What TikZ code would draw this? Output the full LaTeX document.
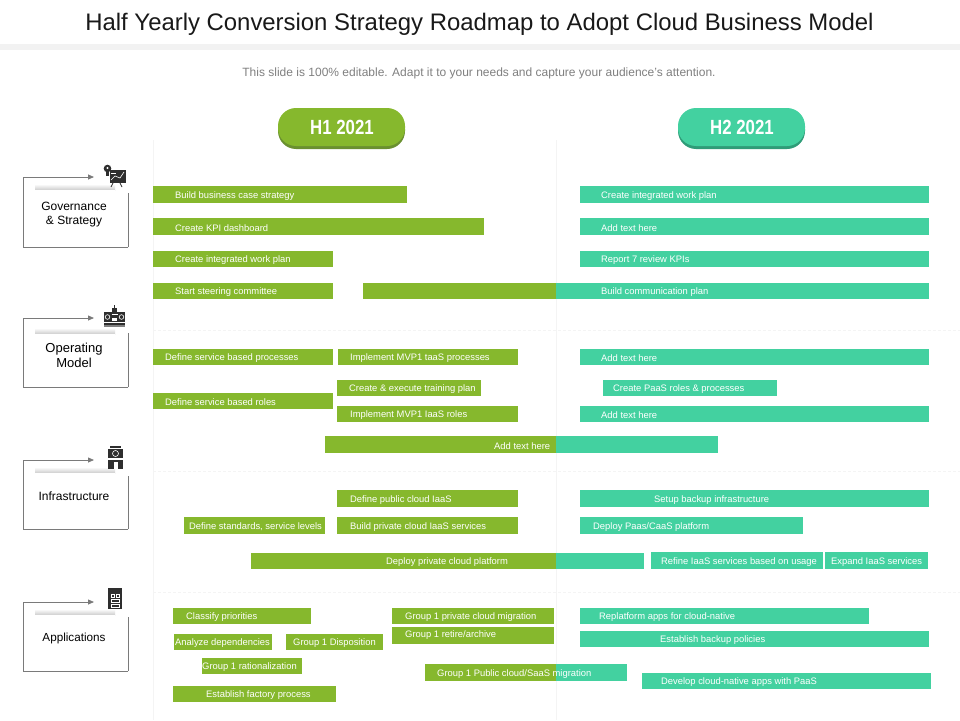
\documentclass[tikz,border=0pt]{standalone}
\usepackage{fontspec}
\setmainfont{Liberation Sans}
\newfontfamily\pillfont[FakeStretch=0.82]{Liberation Sans}
\usetikzlibrary{arrows.meta}
\definecolor{barG}{HTML}{86B82D}
\definecolor{barT}{HTML}{43D1A0}
\definecolor{darkG}{HTML}{6A9030}
\definecolor{darkT}{HTML}{2F9C78}
\definecolor{gridc}{HTML}{F4F4F4}
\definecolor{framec}{HTML}{7A7A7A}
\definecolor{iconc}{HTML}{2E2E2E}
\tikzset{
  x=1pt,y=-1pt,
  greenbar/.style={fill=barG,draw=none,inner sep=0pt,outer sep=0pt},
  tealbar/.style={fill=barT,draw=none,inner sep=0pt,outer sep=0pt},
  bartext/.style={text=white,font=\fontsize{9.4}{11}\selectfont,inner sep=0pt,anchor=west},
  gridline/.style={draw=gridc,line width=0.8pt},
  griddash/.style={draw=gridc,line width=0.8pt,dash pattern=on 3pt off 2pt},
  frameline/.style={draw=framec,line width=0.8pt},
  framearrow/.style={frameline,-{Triangle[length=6pt,width=5pt,fill=framec]}},
  labelbox/.style={fill=white,inner sep=0pt,align=center,minimum width=80pt,minimum height=42pt,text=black},
  pilltext/.style={text=white,font=\pillfont\fontsize{20.5}{22}\selectfont\bfseries,inner sep=0pt},
  icon/.style={fill=iconc,draw=none},
  iconw/.style={draw=white,line width=0.6pt,fill=none}
}
% name, style, x1, y1, x2, y2
\newcommand{\ganttbox}[6]{\node[#2,minimum width={(#5-#3)*1pt},minimum height={(#6-#4)*1pt}] (#1) at ({(#3+#5)/2},{(#4+#6)/2}) {};}
% name, x, y, text
\newcommand{\gantttext}[4]{\node[bartext] (#1) at (#2,{#3+1.3}) {#4};}
% name, x1,y1,x2,y2,textx,text
\newcommand{\gbar}[7]{\ganttbox{#1}{greenbar}{#2}{#3}{#4}{#5}\gantttext{#1t}{#6}{(#3+#5)/2}{#7}}
\newcommand{\tbar}[7]{\ganttbox{#1}{tealbar}{#2}{#3}{#4}{#5}\gantttext{#1t}{#6}{(#3+#5)/2}{#7}}
% name, top, bottom, righttop, innertop
\newcommand{\sidebox}[5]{%
  \coordinate (#1tip) at (94,#2);
  \coordinate (#1tl) at (23,#2);
  \coordinate (#1bl) at (23,#3);
  \coordinate (#1br) at (128,#3);
  \coordinate (#1rt) at (128,#4);
  \draw[framearrow] (#1br) -- (#1bl) -- (#1tl) -- (#1tip);
  \draw[frameline] (#1rt) -- (#1br);
  \shade[top color=white,bottom color=black!20] (35,{#5-3}) rectangle (115,{#5+3});
  \node[labelbox] (#1) at (75,{#5+24}) {};
}
\begin{document}
\begin{tikzpicture}
\useasboundingbox (0,0) rectangle (960,720);
\fill[white] (0,0) rectangle (960,720);
% header
\node[inner sep=0pt,font=\fontsize{23.9}{26}\selectfont,text=black!90] (title) at (479.5,24.5) {Half Yearly Conversion Strategy Roadmap to Adopt Cloud Business Model};
\fill[black!5] (0,44) rectangle (960,50);
\node[inner sep=0pt,font=\fontsize{12}{14}\selectfont,text=black!50] (sub) at (479,73) {This slide is 100\% editable. Adapt it to your needs and capture your audience's attention.};
% grid
\draw[gridline] (153,140) -- (153,720);
\draw[gridline] (556,140) -- (556,720);
\draw[griddash] (153,330) -- (960,330);
\draw[griddash] (153,471) -- (960,471);
\draw[griddash] (153,592) -- (960,592);
% pills
\fill[darkG,rounded corners=18pt] (278,111) rectangle (405,149);
\fill[barG,rounded corners=18pt] (278,108) rectangle (405,146);
\node[pilltext] (h1) at (342,127.5) {H1 2021};
\fill[darkT,rounded corners=18pt] (678,111) rectangle (805,149);
\fill[barT,rounded corners=18pt] (678,108) rectangle (805,146);
\node[pilltext] (h2) at (742,127.5) {H2 2021};
% side boxes
\sidebox{gov}{177}{247}{193}{187}
\node[font=\fontsize{12}{14}\selectfont,align=center,inner sep=0pt] (govt) at (74,215) {Governance\\\& Strategy};
\sidebox{opm}{318}{387}{333}{331}
\node[font=\fontsize{13}{15.5}\selectfont,align=center,inner sep=0pt] (opmt) at (74,355.5) {Operating\\Model};
\sidebox{inf}{460}{529}{476}{470}
\node[font=\fontsize{12}{15}\selectfont,inner sep=0pt] (inft) at (74,496.5) {Infrastructure};
\sidebox{app}{602}{671}{617}{612}
\node[font=\fontsize{11.7}{15}\selectfont,inner sep=0pt] (appt) at (74,638) {Applications};
% icon: governance
\fill[icon] (107.5,168.5) circle (3.8);
\fill[icon] (105.8,172) rectangle (109.2,176);
\fill[white] (107.5,168) circle (1.2);
\fill[icon] (109.5,170) rectangle (126,183);
\draw[iconw] (111,180) -- (115,176) -- (120,178) -- (124,172);
\draw[iconw] (111,173) -- (116,173);
\draw[draw=iconc,line width=0.7pt] (113,183) -- (111,187) (120,183) -- (122,187);
% icon: operating model
\fill[icon] (104,312) rectangle (125,322);
\fill[icon] (104,323) rectangle (125,325);
\fill[black!50] (104,325) rectangle (125,326.5);
\fill[icon] (112,308) rectangle (117,312);
\fill[icon] (113.7,305) rectangle (115.3,308);
\draw[iconw] (107.5,317) circle (2.3) (121.5,317) circle (2.3);
\draw[iconw] (111.5,314) -- (118,314);
\fill[white] (112,318) rectangle (117,321);
% icon: infrastructure
\fill[icon] (110,446) rectangle (121,447.5);
\fill[icon] (108,449) rectangle (123,458);
\fill[icon] (108,460) rectangle (123,469);
\draw[iconw] (115.5,453.5) circle (3);
\fill[white] (113.5,462) rectangle (117.5,469);
% icon: applications
\fill[icon] (108,588) rectangle (122,609);
\draw[iconw] (111,594) rectangle (114,597) (116,594) rectangle (119,597);
\draw[iconw] (111,599.5) rectangle (119,602);
\draw[iconw] (111,604.5) rectangle (119,607);
% governance
\gbar{a1}{153}{186}{407}{203}{175}{Build business case strategy}
\gbar{a2}{153}{218}{484}{235}{175}{Create KPI dashboard}
\gbar{a3}{153}{251}{333}{267}{175}{Create integrated work plan}
\gbar{a4}{153}{283}{333}{299}{175}{Start steering committee}
\ganttbox{a5}{greenbar}{363}{283}{556}{299}
\tbar{a6}{556}{283}{929}{299}{601}{Build communication plan}
\tbar{a7}{580}{186}{929}{203}{601}{Create integrated work plan}
\tbar{a8}{580}{218}{929}{235}{601}{Add text here}
\tbar{a9}{580}{251}{929}{267}{601}{Report 7 review KPIs}
% operating model
\gbar{b1}{153}{349}{333}{365}{165}{Define service based processes}
\gbar{b2}{153}{393}{333}{409}{165}{Define service based roles}
\gbar{b3}{338}{349}{518}{365}{350}{Implement MVP1  taaS processes}
\gbar{b4}{337}{380}{481}{396}{349}{Create \& execute training plan}
\gbar{b5}{337}{406}{518}{422}{350}{Implement MVP1  IaaS roles}
\ganttbox{b6}{greenbar}{325}{436}{556}{453}
\ganttbox{b7}{tealbar}{556}{436}{718}{453}
\gantttext{b6t}{494}{444.5}{Add text here}
\tbar{b8}{580}{349}{929}{365}{601}{Add text here}
\tbar{b9}{603}{380}{777}{396}{613}{Create PaaS roles \& processes}
\tbar{b10}{580}{406}{929}{422}{601}{Add text here}
% infrastructure
\gbar{c1}{337}{490}{518}{507}{350}{Define public cloud IaaS}
\gbar{c2}{337}{517}{518}{534}{350}{Build private cloud IaaS services}
\gbar{c3}{184}{517}{325}{534}{189}{Define standards, service levels}
\ganttbox{c4}{greenbar}{251}{553}{556}{569}
\ganttbox{c5}{tealbar}{556}{553}{644}{569}
\gantttext{c4t}{386}{561}{Deploy private cloud platform}
\tbar{c6}{580}{490}{929}{507}{654}{Setup backup infrastructure}
\tbar{c7}{580}{517}{803}{534}{593}{Deploy Paas/CaaS platform}
\tbar{c8}{651}{552}{823}{569}{661}{Refine IaaS services based on usage}
\tbar{c9}{825}{552}{928}{569}{831}{Expand IaaS services}
% applications
\gbar{d1}{173}{608}{311}{624}{186}{Classify priorities}
\gbar{d2}{174}{634}{272}{650}{175}{Analyze dependencies}
\gbar{d3}{286}{634}{383}{650}{293}{Group  1 Disposition}
\gbar{d4}{202}{658}{302}{674}{202}{Group  1 rationalization}
\gbar{d5}{173}{686}{336}{702}{206}{Establish factory process}
\gbar{d6}{392}{608}{554}{624}{405}{Group  1 private cloud migration}
\ganttbox{d7}{greenbar}{392}{627}{554}{644}
\gantttext{d7t}{405}{633.5}{Group  1 retire/archive}
\ganttbox{d8}{greenbar}{425}{664}{556}{681}
\ganttbox{d9}{tealbar}{556}{664}{627}{681}
\gantttext{d8t}{437}{672.5}{Group  1 Public cloud/SaaS migration}
\tbar{d10}{580}{608}{869}{624}{599}{Replatform apps for cloud-native}
\tbar{d11}{580}{631}{929}{647}{660}{Establish backup policies}
\tbar{d12}{642}{673}{931}{689}{661}{Develop cloud-native apps with PaaS}
\end{tikzpicture}
\end{document}
